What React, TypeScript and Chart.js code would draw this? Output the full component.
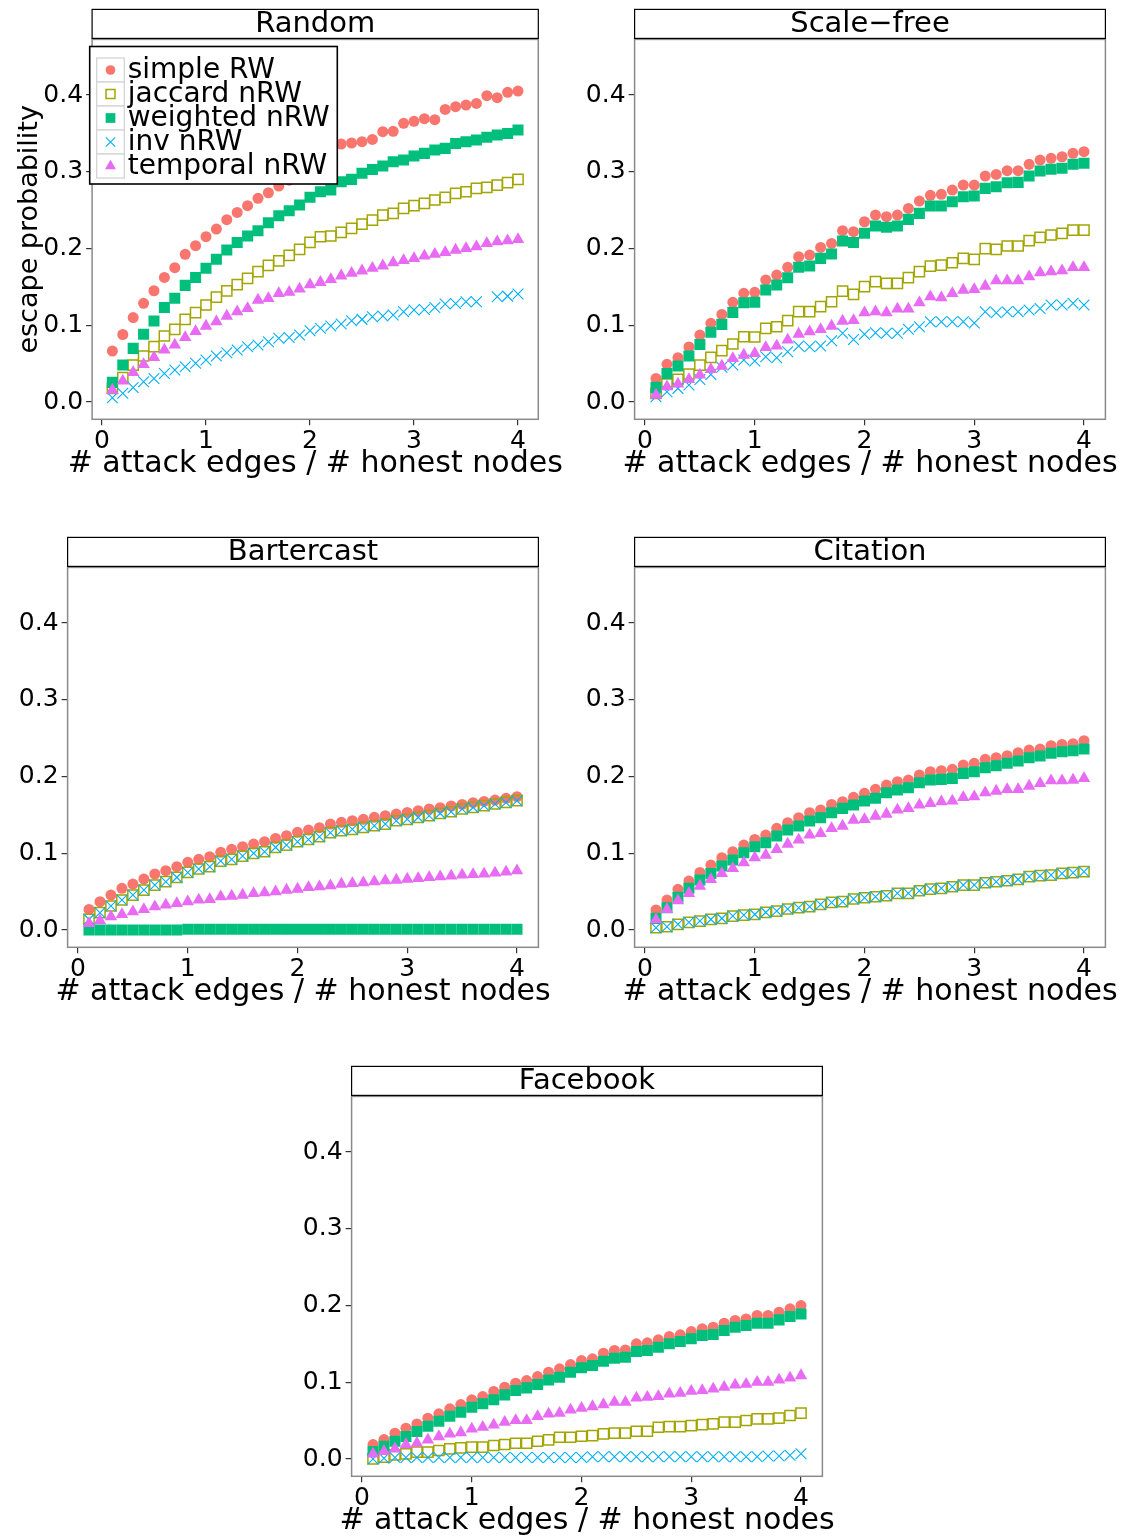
import React, { useEffect, useRef } from "react";
import { Chart, registerables } from "chart.js";
import { drawPoint } from "chart.js/helpers";

Chart.register(...registerables);

const FONT = "'DejaVu Sans', 'Liberation Sans', sans-serif";

// ---------------- data ----------------
const XS = [
  0.1, 0.2, 0.3, 0.4, 0.5, 0.6, 0.7, 0.8, 0.9, 1.0,
  1.1, 1.2, 1.3, 1.4, 1.5, 1.6, 1.7, 1.8, 1.9, 2.0,
  2.1, 2.2, 2.3, 2.4, 2.5, 2.6, 2.7, 2.8, 2.9, 3.0,
  3.1, 3.2, 3.3, 3.4, 3.5, 3.6, 3.7, 3.8, 3.9, 4.0,
];
const SERIES_NAMES = ["simple RW", "jaccard nRW", "weighted nRW", "inv nRW", "temporal nRW"];
const PANEL_TITLES = ["Random", "Scale\u2212free", "Bartercast", "Citation", "Facebook"];
const X_TICKS = [0, 1, 2, 3, 4];
const Y_TICKS = [0, 0.1, 0.2, 0.3, 0.4];
const X_TITLE = "# attack edges / # honest nodes";
const Y_TITLE = "escape probability";

// Random
const RANDOM_SIMPLE = [0.0665, 0.088, 0.110, 0.1286, 0.145, 0.1624, 0.175, 0.1924, 0.2037, 0.2154, 0.2254, 0.2376, 0.2471, 0.2558, 0.2654, 0.2727, 0.2814, 0.289, 0.297, 0.305, 0.314, 0.323, 0.3362, 0.3375, 0.3392, 0.3422, 0.3522, 0.3527, 0.3631, 0.3657, 0.3692, 0.3679, 0.3813, 0.3848, 0.387, 0.3891, 0.3991, 0.3965, 0.4035, 0.4052];
const RANDOM_JACCARD = [0.0178, 0.0317, 0.0482, 0.06, 0.0721, 0.086, 0.0947, 0.1077, 0.1164, 0.1264, 0.1368, 0.1448, 0.153, 0.1611, 0.1698, 0.178, 0.184, 0.191, 0.199, 0.208, 0.2154, 0.2163, 0.2211, 0.2263, 0.2319, 0.2371, 0.2436, 0.2458, 0.2523, 0.2558, 0.2589, 0.2632, 0.2667, 0.2719, 0.274, 0.2784, 0.2797, 0.2827, 0.2858, 0.2901];
const RANDOM_WEIGHTED = [0.0256, 0.0482, 0.0699, 0.0882, 0.1055, 0.1233, 0.1351, 0.152, 0.1624, 0.1742, 0.1859, 0.198, 0.208, 0.2163, 0.2232, 0.2337, 0.2428, 0.2493, 0.2567, 0.2667, 0.274, 0.2762, 0.287, 0.2901, 0.298, 0.3031, 0.3075, 0.3131, 0.3153, 0.3205, 0.324, 0.3283, 0.3305, 0.337, 0.3392, 0.3413, 0.3449, 0.3479, 0.35, 0.3544];
const RANDOM_INV = [0.0056, 0.0113, 0.019, 0.0265, 0.0308, 0.0373, 0.0417, 0.046, 0.0504, 0.0547, 0.06, 0.0643, 0.0678, 0.072, 0.0743, 0.0786, 0.083, 0.0842, 0.0873, 0.0929, 0.096, 0.099, 0.1016, 0.106, 0.1077, 0.1112, 0.112, 0.1134, 0.1177, 0.1199, 0.1207, 0.1233, 0.1277, 0.1285, 0.1307, 0.1307, null, 0.1372, 0.138, 0.1407];
const RANDOM_TEMPORAL = [0.0156, 0.0274, 0.0387, 0.049, 0.058, 0.068, 0.0743, 0.0842, 0.092, 0.099, 0.1047, 0.112, 0.1177, 0.122, 0.1329, 0.1351, 0.1416, 0.1432, 0.1475, 0.153, 0.156, 0.1598, 0.1645, 0.168, 0.171, 0.1745, 0.1775, 0.1815, 0.1845, 0.187, 0.1905, 0.1926, 0.195, 0.198, 0.2002, 0.2024, 0.2067, 0.209, 0.2102, 0.212];

// Scale-free
const SF_SIMPLE = [0.0308, 0.0491, 0.0577, 0.0717, 0.0873, 0.1025, 0.1142, 0.1299, 0.1416, 0.1429, 0.159, 0.1655, 0.1755, 0.1893, 0.1915, 0.2015, 0.2067, 0.2232, 0.2219, 0.2349, 0.2436, 0.2415, 0.2436, 0.2523, 0.2619, 0.2693, 0.2706, 0.2762, 0.2827, 0.2827, 0.2945, 0.2966, 0.3014, 0.3014, 0.3097, 0.3153, 0.3175, 0.3196, 0.324, 0.3262];
const SF_JACCARD = [0.0113, 0.0235, 0.0295, 0.0365, 0.0482, 0.0582, 0.0669, 0.0756, 0.0851, 0.0847, 0.096, 0.0981, 0.106, 0.1177, 0.1177, 0.1242, 0.1307, 0.1446, 0.1403, 0.1503, 0.1568, 0.1546, 0.1546, 0.162, 0.1698, 0.1772, 0.1785, 0.1815, 0.1872, 0.1859, 0.1998, 0.1989, 0.2033, 0.2033, 0.2102, 0.2146, 0.2176, 0.2198, 0.2241, 0.2241];
const SF_WEIGHTED = [0.0191, 0.0373, 0.0469, 0.0599, 0.0751, 0.0908, 0.1012, 0.1168, 0.1294, 0.1299, 0.1459, 0.1524, 0.162, 0.1755, 0.1772, 0.1872, 0.1928, 0.2098, 0.208, 0.2198, 0.2293, 0.2276, 0.2293, 0.238, 0.2458, 0.2554, 0.2554, 0.261, 0.2675, 0.2684, 0.2784, 0.2805, 0.2858, 0.2862, 0.2945, 0.301, 0.3032, 0.3045, 0.3097, 0.311];
const SF_INV = [0.0069, 0.0134, 0.0178, 0.0221, 0.0295, 0.036, 0.0452, 0.0482, 0.0547, 0.0534, 0.059, 0.0577, 0.0656, 0.073, 0.0721, 0.073, 0.0799, 0.0895, 0.0816, 0.0882, 0.0903, 0.0895, 0.0895, 0.0947, 0.0981, 0.1046, 0.1046, 0.1046, 0.1046, 0.1029, 0.1177, 0.1164, 0.1177, 0.1177, 0.1199, 0.122, 0.1264, 0.1264, 0.1286, 0.1264];
const SF_TEMPORAL = [0.0091, 0.02, 0.0235, 0.0295, 0.0352, 0.0426, 0.0469, 0.0569, 0.0612, 0.0634, 0.0712, 0.073, 0.0808, 0.0886, 0.0916, 0.0947, 0.099, 0.1055, 0.1064, 0.1164, 0.1177, 0.1164, 0.1212, 0.1212, 0.1294, 0.1372, 0.1359, 0.1416, 0.1459, 0.1468, 0.1511, 0.1581, 0.1581, 0.1581, 0.1633, 0.1685, 0.1698, 0.1711, 0.1755, 0.1755];

// Bartercast
const BC_SIMPLE = [0.0269, 0.0369, 0.0456, 0.0543, 0.0599, 0.0664, 0.073, 0.0773, 0.0825, 0.0882, 0.0921, 0.0955, 0.1012, 0.1051, 0.1085, 0.112, 0.1151, 0.1194, 0.1229, 0.1273, 0.1303, 0.1333, 0.1381, 0.1403, 0.1424, 0.1442, 0.1468, 0.149, 0.1511, 0.1533, 0.1555, 0.1577, 0.1594, 0.1616, 0.1637, 0.1659, 0.1676, 0.1694, 0.1716, 0.1737];
const BC_JACCARD = [0.0139, 0.0226, 0.0313, 0.0391, 0.0456, 0.0521, 0.0586, 0.063, 0.0686, 0.0751, 0.0795, 0.0825, 0.0899, 0.0921, 0.0964, 0.0999, 0.102, 0.1077, 0.1107, 0.1151, 0.1181, 0.1216, 0.1268, 0.1294, 0.1312, 0.1338, 0.1359, 0.1381, 0.1424, 0.1442, 0.1468, 0.149, 0.152, 0.1541, 0.1577, 0.1598, 0.162, 0.1642, 0.1663, 0.1685];
const BC_WEIGHTED = [0, 0, 0, 0, 0, 0, 0, 0, 0, 0.001, 0.001, 0.001, 0.001, 0.001, 0.001, 0.001, 0.001, 0.001, 0.001, 0.001, 0.001, 0.001, 0.001, 0.001, 0.001, 0.001, 0.001, 0.001, 0.001, 0.001, 0.001, 0.001, 0.001, 0.001, 0.001, 0.001, 0.001, 0.001, 0.001, 0.001];
const BC_INV = [0.0139, 0.0226, 0.0313, 0.0391, 0.0456, 0.0521, 0.0586, 0.063, 0.0686, 0.0751, 0.0795, 0.0825, 0.0899, 0.0921, 0.0964, 0.0999, 0.102, 0.1077, 0.1107, 0.1151, 0.1181, 0.1216, 0.1268, 0.1294, 0.1312, 0.1338, 0.1359, 0.1381, 0.1424, 0.1442, 0.1468, 0.149, 0.152, 0.1541, 0.1577, 0.1598, 0.162, 0.1642, 0.1663, 0.1685];
const BC_TEMPORAL = [0.0087, 0.0122, 0.0174, 0.0204, 0.0239, 0.0269, 0.0304, 0.0326, 0.0347, 0.0369, 0.0391, 0.04, 0.0434, 0.0443, 0.0456, 0.0478, 0.0486, 0.0499, 0.0521, 0.0534, 0.0556, 0.0565, 0.0577, 0.0599, 0.0608, 0.0617, 0.063, 0.0643, 0.0651, 0.0664, 0.0673, 0.0686, 0.0695, 0.0704, 0.0717, 0.0725, 0.073, 0.0743, 0.0756, 0.0773];

// Citation
const CIT_SIMPLE = [0.0261, 0.0391, 0.053, 0.0638, 0.0751, 0.0847, 0.0942, 0.102, 0.1107, 0.1181, 0.1238, 0.1325, 0.1398, 0.1463, 0.1528, 0.1564, 0.1637, 0.1672, 0.1729, 0.1781, 0.1833, 0.1889, 0.1932, 0.1954, 0.202, 0.2063, 0.2076, 0.2094, 0.215, 0.2172, 0.2224, 0.2245, 0.2271, 0.231, 0.2345, 0.2358, 0.2402, 0.2419, 0.2428, 0.2467];
const CIT_JACCARD = [0.003, 0.0043, 0.0074, 0.01, 0.0117, 0.0139, 0.0152, 0.0182, 0.0195, 0.0204, 0.023, 0.0247, 0.0274, 0.0291, 0.0304, 0.0334, 0.036, 0.0369, 0.0404, 0.0421, 0.0434, 0.0447, 0.0478, 0.0478, 0.0512, 0.0534, 0.0543, 0.0564, 0.0586, 0.0586, 0.0616, 0.0629, 0.0642, 0.066, 0.0695, 0.0708, 0.0716, 0.0738, 0.0747, 0.076];
const CIT_WEIGHTED = [0.0152, 0.0291, 0.0426, 0.0543, 0.0651, 0.0738, 0.0834, 0.0912, 0.1007, 0.1086, 0.1138, 0.1225, 0.1303, 0.1355, 0.142, 0.1463, 0.1528, 0.1585, 0.1629, 0.1681, 0.1716, 0.1789, 0.1824, 0.1854, 0.1919, 0.1954, 0.1963, 0.1976, 0.2041, 0.2063, 0.2115, 0.2141, 0.2172, 0.2202, 0.2245, 0.2267, 0.2302, 0.2324, 0.2337, 0.2358];
const CIT_INV = [0.003, 0.0043, 0.0074, 0.01, 0.0117, 0.0139, 0.0152, 0.0182, 0.0195, 0.0204, 0.023, 0.0247, 0.0274, 0.0291, 0.0304, 0.0334, 0.036, 0.0369, 0.0404, 0.0421, 0.0434, 0.0447, 0.0478, 0.0478, 0.0512, 0.0534, 0.0543, 0.0564, 0.0586, 0.0586, 0.0616, 0.0629, 0.0642, 0.066, 0.0695, 0.0708, 0.0716, 0.0738, 0.0747, 0.076];
const CIT_TEMPORAL = [0.0135, 0.0269, 0.0382, 0.0478, 0.0573, 0.066, 0.0738, 0.0803, 0.0877, 0.0942, 0.0977, 0.1051, 0.112, 0.1173, 0.1238, 0.126, 0.1325, 0.1355, 0.1433, 0.1442, 0.1485, 0.1511, 0.1564, 0.1585, 0.1629, 0.165, 0.1672, 0.1681, 0.1729, 0.1737, 0.1789, 0.1811, 0.1833, 0.1833, 0.1876, 0.1911, 0.1946, 0.1946, 0.1954, 0.1976];

// Facebook
const FB_SIMPLE = [0.0189, 0.0254, 0.0336, 0.0402, 0.0458, 0.0532, 0.0589, 0.0654, 0.071, 0.0771, 0.0814, 0.088, 0.0936, 0.0988, 0.1023, 0.1075, 0.1131, 0.1175, 0.1231, 0.1283, 0.1306, 0.1379, 0.1414, 0.1422, 0.1501, 0.1514, 0.1553, 0.1596, 0.1618, 0.1661, 0.1696, 0.1718, 0.177, 0.1805, 0.1826, 0.187, 0.187, 0.1913, 0.1957, 0.2];
const FB_JACCARD = [0.0003, 0.0024, 0.0054, 0.0067, 0.0089, 0.0089, 0.0111, 0.0133, 0.0146, 0.0154, 0.0154, 0.0176, 0.0189, 0.0206, 0.0206, 0.0232, 0.025, 0.0284, 0.0284, 0.0297, 0.0306, 0.0328, 0.0337, 0.0337, 0.0362, 0.0362, 0.0414, 0.0423, 0.0423, 0.0436, 0.0449, 0.0458, 0.048, 0.048, 0.0502, 0.0523, 0.0523, 0.0532, 0.0567, 0.0597];
const FB_WEIGHTED = [0.0098, 0.0167, 0.0232, 0.0293, 0.0358, 0.0428, 0.0493, 0.0558, 0.061, 0.0675, 0.0719, 0.0771, 0.0836, 0.0893, 0.0927, 0.0971, 0.1031, 0.1066, 0.1131, 0.1188, 0.1218, 0.1275, 0.1314, 0.1327, 0.1401, 0.1414, 0.1457, 0.1501, 0.1531, 0.1566, 0.1609, 0.1622, 0.1674, 0.1718, 0.1739, 0.177, 0.177, 0.1813, 0.1857, 0.1891];
const FB_INV = [0.0, 0.001, 0.002, 0.002, 0.002, 0.002, 0.002, 0.002, 0.002, 0.002, 0.002, 0.002, 0.002, 0.002, 0.002, 0.002, 0.002, 0.002, 0.002, 0.002, 0.003, 0.003, 0.003, 0.003, 0.003, 0.003, 0.003, 0.003, 0.003, 0.003, 0.003, 0.003, 0.003, 0.003, 0.003, 0.003, 0.004, 0.004, 0.005, 0.007];
const FB_TEMPORAL = [0.0067, 0.0098, 0.0133, 0.0189, 0.0206, 0.025, 0.0293, 0.0328, 0.0345, 0.0393, 0.0415, 0.0445, 0.048, 0.0502, 0.0502, 0.0554, 0.0589, 0.0597, 0.0641, 0.0662, 0.0684, 0.071, 0.074, 0.074, 0.0797, 0.0806, 0.0815, 0.0849, 0.0858, 0.0884, 0.0893, 0.0914, 0.0936, 0.0966, 0.0975, 0.1001, 0.1001, 0.1031, 0.1058, 0.1088];

// ---------------- styles / layout ----------------
const X_MIN = -0.095;
const X_MAX = 4.195;
const Y_MIN = -0.0225;
const Y_MAX = 0.4725;

const STYLES = [
  { pointStyle: "circle", radius: 5.5, fill: "#F8766D", stroke: "#F8766D", bw: 0 },
  { pointStyle: "rect", radius: 7.2, fill: "rgba(0,0,0,0)", stroke: "#A3A500", bw: 1.5 },
  { pointStyle: "rect", radius: 7.8, fill: "#00BF7D", stroke: "#00BF7D", bw: 0 },
  { pointStyle: "crossRot", radius: 7.6, fill: "#00B0F6", stroke: "#00B0F6", bw: 1.1 },
  { pointStyle: "triangle", radius: 7.2, fill: "#E76BF3", stroke: "#E76BF3", bw: 0 },
];

type Area = { l: number; t: number; r: number; b: number };
type PanelDef = {
  title: string;
  series: (number | null)[][];
  left: number;
  top: number;
  width: number;
  height: number;
  area: Area;
  yTitle: boolean;
  legend: boolean;
};

const PANELS: PanelDef[] = [
  {
    title: PANEL_TITLES[0],
    series: [RANDOM_SIMPLE, RANDOM_JACCARD, RANDOM_WEIGHTED, RANDOM_INV, RANDOM_TEMPORAL],
    left: 0, top: 0, width: 565, height: 485,
    area: { l: 92.1, t: 39.4, r: 538.3, b: 419.3 },
    yTitle: true, legend: true,
  },
  {
    title: PANEL_TITLES[1],
    series: [SF_SIMPLE, SF_JACCARD, SF_WEIGHTED, SF_INV, SF_TEMPORAL],
    left: 565, top: 0, width: 558, height: 485,
    area: { l: 69.6, t: 39.4, r: 540.4, b: 419.3 },
    yTitle: false, legend: false,
  },
  {
    title: PANEL_TITLES[2],
    series: [BC_SIMPLE, BC_JACCARD, BC_WEIGHTED, BC_INV, BC_TEMPORAL],
    left: 0, top: 500, width: 565, height: 510,
    area: { l: 67.6, t: 67.4, r: 538.4, b: 447.3 },
    yTitle: false, legend: false,
  },
  {
    title: PANEL_TITLES[3],
    series: [CIT_SIMPLE, CIT_JACCARD, CIT_WEIGHTED, CIT_INV, CIT_TEMPORAL],
    left: 565, top: 500, width: 558, height: 510,
    area: { l: 69.6, t: 67.4, r: 540.4, b: 447.3 },
    yTitle: false, legend: false,
  },
  {
    title: PANEL_TITLES[4],
    series: [FB_SIMPLE, FB_JACCARD, FB_WEIGHTED, FB_INV, FB_TEMPORAL],
    left: 300, top: 1045, width: 560, height: 492,
    area: { l: 51.6, t: 51.4, r: 522.4, b: 431.3 },
    yTitle: false, legend: false,
  },
];

const LEGEND_BOX = { x: 89.7, y: 46.5, w: 247.6, h: 137.5, rowsTop: 58, rowH: 24, keyX: 96.7, keyW: 27.6, textX: 127.7 };

const panelDecor = {
  id: "panelDecor",
  afterDraw(chart: any, _args: any, opts: any) {
    const { ctx, chartArea: a } = chart;
    ctx.save();
    // panel border
    ctx.strokeStyle = "#8a8a8a";
    ctx.lineWidth = 1.5;
    ctx.strokeRect(a.left, a.top, a.right - a.left, a.bottom - a.top);
    // strip
    const sh = 29;
    const sy = a.top - 1 - sh;
    ctx.fillStyle = "#ffffff";
    ctx.fillRect(a.left, sy, a.right - a.left, sh);
    ctx.strokeStyle = "#000000";
    ctx.lineWidth = 1.2;
    ctx.strokeRect(a.left, sy, a.right - a.left, sh);
    ctx.fillStyle = "#000000";
    ctx.font = `29px ${FONT}`;
    ctx.textAlign = "center";
    ctx.textBaseline = "middle";
    ctx.fillText(opts.title, (a.left + a.right) / 2, sy + sh / 2 + 1);

    // x axis title (drawn here so it is not squeezed to the plot width)
    ctx.font = `30px ${FONT}`;
    ctx.fillText(opts.xTitle, (a.left + a.right) / 2, a.bottom + 45);

    if (opts.legend) {
      const L = LEGEND_BOX;
      ctx.fillStyle = "#ffffff";
      ctx.fillRect(L.x, L.y, L.w, L.h);
      ctx.strokeStyle = "#000000";
      ctx.lineWidth = 1.6;
      ctx.strokeRect(L.x, L.y, L.w, L.h);
      chart.data.datasets.forEach((ds: any, i: number) => {
        const ry = L.rowsTop + i * L.rowH;
        ctx.fillStyle = "#ffffff";
        ctx.fillRect(L.keyX, ry, L.keyW, L.rowH);
        ctx.strokeStyle = "#d4d4d4";
        ctx.lineWidth = 1.3;
        ctx.strokeRect(L.keyX, ry, L.keyW, L.rowH);
        ctx.fillStyle = ds.pointBackgroundColor;
        ctx.strokeStyle = ds.pointBorderColor;
        ctx.lineWidth = ds.pointBorderWidth;
        drawPoint(
          ctx,
          { pointStyle: ds.pointStyle, radius: ds.pointRadius * 0.88, borderWidth: ds.pointBorderWidth, rotation: 0 } as any,
          L.keyX + L.keyW / 2,
          ry + L.rowH / 2
        );
        ctx.fillStyle = "#000000";
        ctx.font = `28px ${FONT}`;
        ctx.textAlign = "left";
        ctx.textBaseline = "middle";
        ctx.fillText(ds.label, L.textX, ry + L.rowH / 2 + 1);
      });
    }
    ctx.restore();
  },
};

function buildConfig(def: PanelDef): any {
  const datasets = SERIES_NAMES.map((name, i) => {
    const st = STYLES[i];
    return {
      label: name,
      data: XS.map((x, j) => ({ x, y: def.series[i][j] })),
      showLine: false,
      pointStyle: st.pointStyle,
      pointRadius: st.radius,
      pointBackgroundColor: st.fill,
      pointBorderColor: st.stroke,
      pointBorderWidth: st.bw,
      order: SERIES_NAMES.length - 1 - i,
    };
  });
  return {
    type: "scatter",
    data: { datasets },
    options: {
      animation: false,
      responsive: false,
      devicePixelRatio: 1,
      events: [],
      layout: { padding: { left: 0, top: def.area.t, right: def.width - def.area.r, bottom: 0 } },
      plugins: {
        legend: { display: false },
        tooltip: { enabled: false },
        panelDecor: { title: def.title, legend: def.legend, xTitle: X_TITLE },
      },
      scales: {
        x: {
          type: "linear",
          min: X_MIN,
          max: X_MAX,
          afterBuildTicks: (s: any) => {
            s.ticks = X_TICKS.map((v) => ({ value: v }));
          },
          afterFit: (s: any) => {
            s.height = def.height - def.area.b;
          },
          grid: { drawOnChartArea: false, drawTicks: true, tickLength: 6, color: "#333333", lineWidth: 1.2 },
          border: { display: false },
          ticks: {
            font: { family: FONT, size: 25 },
            color: "#000000",
            padding: 1,
            maxRotation: 0,
            autoSkip: false,
            callback: (v: any) => String(v),
          },
          title: { display: false },
        },
        y: {
          type: "linear",
          min: Y_MIN,
          max: Y_MAX,
          afterBuildTicks: (s: any) => {
            s.ticks = Y_TICKS.map((v) => ({ value: v }));
          },
          afterFit: (s: any) => {
            s.width = def.area.l;
          },
          grid: { drawOnChartArea: false, drawTicks: true, tickLength: 6, color: "#333333", lineWidth: 1.2 },
          border: { display: false },
          ticks: {
            font: { family: FONT, size: 25 },
            color: "#000000",
            padding: 3,
            autoSkip: false,
            callback: (v: any) => Number(v).toFixed(1),
          },
          title: {
            display: def.yTitle,
            text: Y_TITLE,
            color: "#000000",
            font: { family: FONT, size: 27, lineHeight: 1.1 },
            padding: { top: 15, bottom: 0 },
          },
        },
      },
    },
    plugins: [panelDecor],
  };
}

function Panel({ def }: { def: PanelDef }) {
  const ref = useRef<HTMLCanvasElement>(null);
  useEffect(() => {
    if (!ref.current) return;
    const chart = new Chart(ref.current, buildConfig(def));
    return () => chart.destroy();
  }, [def]);
  return (
    <canvas
      ref={ref}
      width={def.width}
      height={def.height}
      style={{ position: "absolute", left: def.left, top: def.top, width: def.width, height: def.height }}
    />
  );
}

export default function App() {
  return (
    <div
      style={{
        position: "absolute",
        left: 0,
        top: 0,
        width: 1123,
        height: 1537,
        overflow: "hidden",
        background: "#ffffff",
      }}
    >
      {PANELS.map((p) => (
        <Panel key={p.title} def={p} />
      ))}
    </div>
  );
}
